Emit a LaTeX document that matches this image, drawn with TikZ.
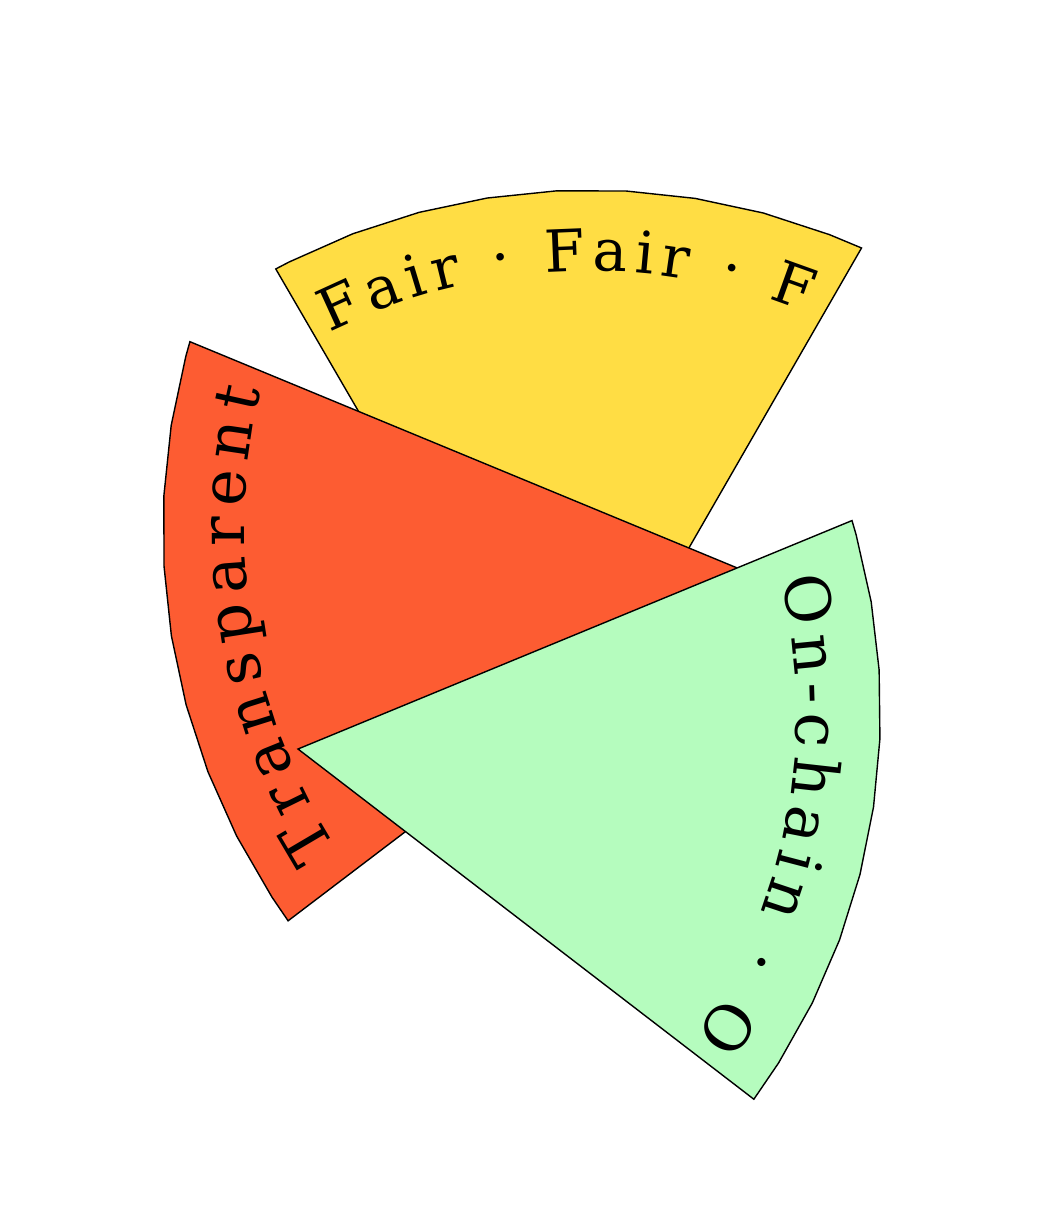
\documentclass[tikz,border=0pt]{standalone}
\usepackage{fontspec}
\usetikzlibrary{calc}
\newfontfamily\dvs{DejaVu Serif}
\definecolor{secyellow}{RGB}{255,221,68}
\definecolor{secred}{RGB}{253,92,50}
\definecolor{secgreen}{RGB}{181,252,190}
\newlength\chwd
\newlength\chacc
\newlength\chtot
% preamble measuring: #1 name, #2 baseline radius, #3 mid angle, #4 spacing, #5 font, #6 list
\newcommand\arcprep[6]{%
  \global\chtot=0pt
  \foreach \ch [count=\k] in {#6} {%
    \settowidth\chwd{#5\ch}%
    \global\advance\chtot by \chwd
    \ifnum\k>1 \global\advance\chtot by #4pt\fi
  }%
  \global\chacc=0pt
  \foreach \ch [count=\k] in {#6} {%
    \settowidth\chwd{#5\ch}%
    \pgfmathsetmacro\ang{#3 + (0.5*\chtot - \chacc - 0.5*\chwd)/(#2)*180/pi}%
    \expandafter\xdef\csname #1@\k\endcsname{\ang}%
    \global\advance\chacc by \chwd
    \global\advance\chacc by #4pt
  }%
}
% placing: #1 name, #2 center coordinate, #3 radius, #4 list
\newcommand\arcplace[4]{%
  \foreach \ch [count=\k] in {#4} {%
    \pgfmathsetmacro\ang{\csname #1@\k\endcsname}%
    \node[glyph, rotate=\ang-90] (#1\k) at ($(#2)+(\ang:#3)$) {\ch};
  }%
}
\def\yfont{\dvs\fontsize{58}{60}\selectfont}
\def\rfont{\dvs\fontsize{62}{64}\selectfont}
\def\gfont{\dvs\fontsize{62}{64}\selectfont}
\def\ylist{F,a,i,r,\ ,·,\ ,F,a,i,r,\ ,·,\ ,F}
\def\rlist{T,r,a,n,s,p,a,r,e,n,t}
\def\glist{O,n,-,c,h,a,i,n,\ ,·,\ ,O}
\expandafter\arcprep\expandafter{\expandafter f\expandafter y\expandafter}\expandafter{\expandafter5\expandafter8\expandafter4\expandafter}\expandafter{\expandafter9\expandafter2\expandafter.\expandafter4\expandafter}\expandafter{\expandafter7\expandafter}\expandafter{\expandafter\yfont\expandafter}\expandafter{\ylist}
\expandafter\arcprep\expandafter{\expandafter t\expandafter r\expandafter}\expandafter{\expandafter5\expandafter9\expandafter2\expandafter}\expandafter{\expandafter1\expandafter8\expandafter9\expandafter.\expandafter4\expandafter}\expandafter{\expandafter9\expandafter}\expandafter{\expandafter\rfont\expandafter}\expandafter{\rlist}
\expandafter\arcprep\expandafter{\expandafter o\expandafter c\expandafter}\expandafter{\expandafter5\expandafter7\expandafter2\expandafter}\expandafter{\expandafter-\expandafter1\expandafter0\expandafter.\expandafter6\expandafter}\expandafter{\expandafter8\expandafter}\expandafter{\expandafter\gfont\expandafter}\expandafter{\glist}
\begin{document}
\begin{tikzpicture}[x=1pt,y=1pt,
  sector/.style={draw=black, line width=1.4pt, line join=miter},
  glyph/.style={inner sep=0pt, anchor=base, font=\arcfont, text=black}]
\useasboundingbox (0,0) rectangle (1056,-1210);
% yellow
\coordinate (ya) at (564,-765);
\coordinate (yc) at (590,-855);
\filldraw[sector, fill=secyellow] (ya) -- ($(yc)+(118.2:665)$)
  \foreach \a in {116.9,110.9,...,68.8} { -- ($(yc)+(\a:665)$) }
  -- ($(yc)+(65.9:665)$) -- cycle;
\let\arcfont\yfont
\arcplace{fy}{yc}{584}{F,a,i,r,\ ,·,\ ,F,a,i,r,\ ,·,\ ,F}
% red
\coordinate (ra) at (747,-572);
\coordinate (rc) at (836,-530);
\filldraw[sector, fill=secred] (ra) -- ($(rc)+(163.75:673)$)
  \foreach \a in {165.05,171.05,...,213.1} { -- ($(rc)+(\a:673)$) }
  -- ($(rc)+(215.5:673)$) -- cycle;
\let\arcfont\rfont
\arcplace{tr}{rc}{592}{T,r,a,n,s,p,a,r,e,n,t}
% green
\coordinate (ga) at (298,-749);
\coordinate (gc) at (224.5,-711.8);
\filldraw[sector, fill=secgreen] (ga) -- ($(gc)+(16.95:656)$)
  \foreach \a in {15.65,9.65,...,-32.4} { -- ($(gc)+(\a:656)$) }
  -- ($(gc)+(-36.2:656)$) -- cycle;
\let\arcfont\gfont
\arcplace{oc}{gc}{572}{O,n,-,c,h,a,i,n,\ ,·,\ ,O}
\end{tikzpicture}
\end{document}
